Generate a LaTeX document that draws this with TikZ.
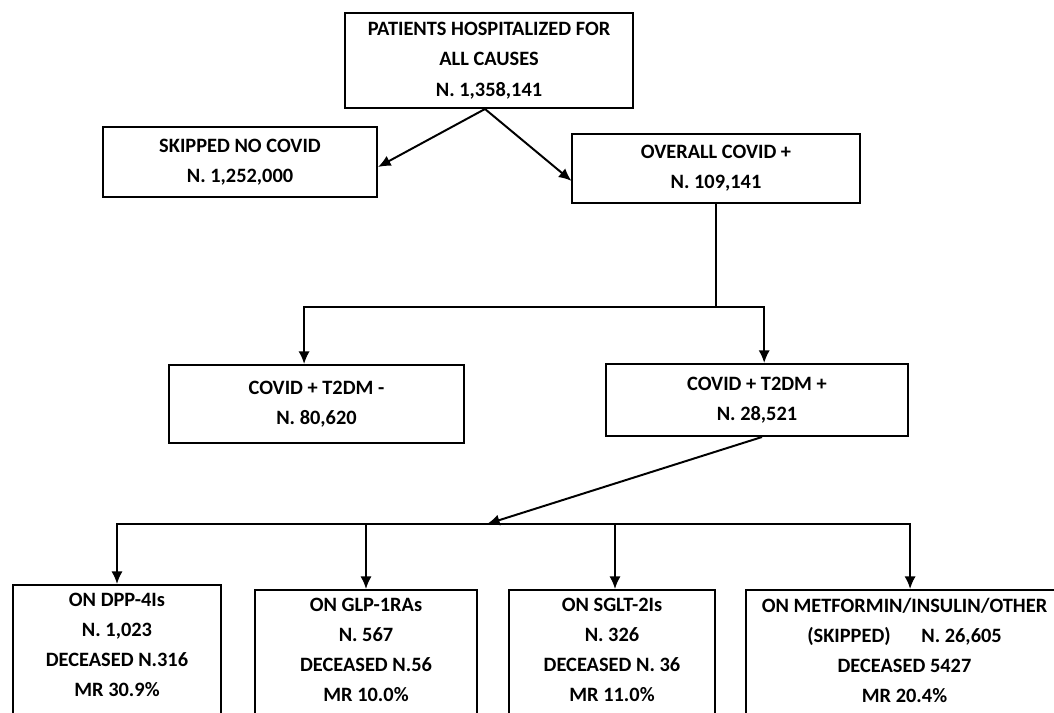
\documentclass[tikz,border=0pt]{standalone}
\usepackage{fontspec}
\setmainfont{Carlito}
\usetikzlibrary{arrows.meta}

\tikzset{
  flowbox/.style={draw, line width=1.4pt, rectangle, align=center, inner sep=2pt,
                  font=\bfseries\fontsize{14.5}{21.5}\selectfont},
  armbox/.style={flowbox, anchor=north, inner ysep=5.5pt, text depth=4cm,
                 font=\bfseries\fontsize{14.5}{21.5}\selectfont},
  conn/.style={line width=1.4pt, -{Latex[length=9pt, width=8pt]}}
}

\begin{document}
\begin{tikzpicture}[x=0.025cm, y=-0.025cm]
  \useasboundingbox (0,0) rectangle (1054,712);

  \node[flowbox, minimum width=7.2cm, minimum height=2.375cm] (all) at (489,60.5)
    {PATIENTS HOSPITALIZED FOR\\ALL CAUSES\\N. 1,358,141};
  \node[flowbox, minimum width=6.85cm, minimum height=1.75cm] (nocovid) at (240,162)
    {SKIPPED NO COVID\\N. 1,252,000};
  \node[flowbox, minimum width=7.175cm, minimum height=1.725cm] (covid) at (716,168.5)
    {OVERALL COVID +\\N. 109,141};
  \node[flowbox, minimum width=7.375cm, minimum height=1.95cm] (dmneg) at (316.5,404)
    {COVID + T2DM -\\N. 80,620};
  \node[flowbox, minimum width=7.55cm, minimum height=1.8cm] (dmpos) at (757,400)
    {COVID + T2DM +\\N. 28,521};

  \node[armbox, minimum width=5.2cm] (dpp) at (117,584)
    {ON DPP-4Is\\N. 1,023\\DECEASED N.316\\MR 30.9\%};
  \node[armbox, minimum width=5.525cm] (glp) at (366,589)
    {ON GLP-1RAs\\N. 567\\DECEASED N.56\\MR 10.0\%};
  \node[armbox, minimum width=5.15cm] (sglt) at (612,589)
    {ON SGLT-2Is\\N. 326\\DECEASED N. 36\\MR 11.0\%};
  \node[armbox, minimum width=7.9cm] (other) at (904.5,589)
    {ON METFORMIN/INSULIN/OTHER\\(SKIPPED)\hspace{1.5em}N. 26,605\\DECEASED 5427\\MR 20.4\%};

  \coordinate (split1) at (716,307);
  \coordinate (split2) at (487,524);

  \draw[conn] ([xshift=-0.1cm]all.south) -- ([yshift=-0.125cm]nocovid.east);
  \draw[conn] ([xshift=-0.1cm]all.south) -- ([yshift=-0.31cm]covid.west);
  \draw[line width=1.4pt] (covid.south) -- (split1);
  \draw[conn] (split1) -| ([xshift=-0.31cm]dmneg.north);
  \draw[conn] (split1) -| ([xshift=0.18cm]dmpos.north);
  \draw[conn] ([xshift=0.125cm]dmpos.south) -- (split2);
  \draw[conn] (split2) -| (dpp.north);
  \draw[conn] (split2) -| (glp.north);
  \draw[conn] (split2) -| ([xshift=0.075cm]sglt.north);
  \draw[conn] (split2) -| ([xshift=0.14cm]other.north);
\end{tikzpicture}
\end{document}
